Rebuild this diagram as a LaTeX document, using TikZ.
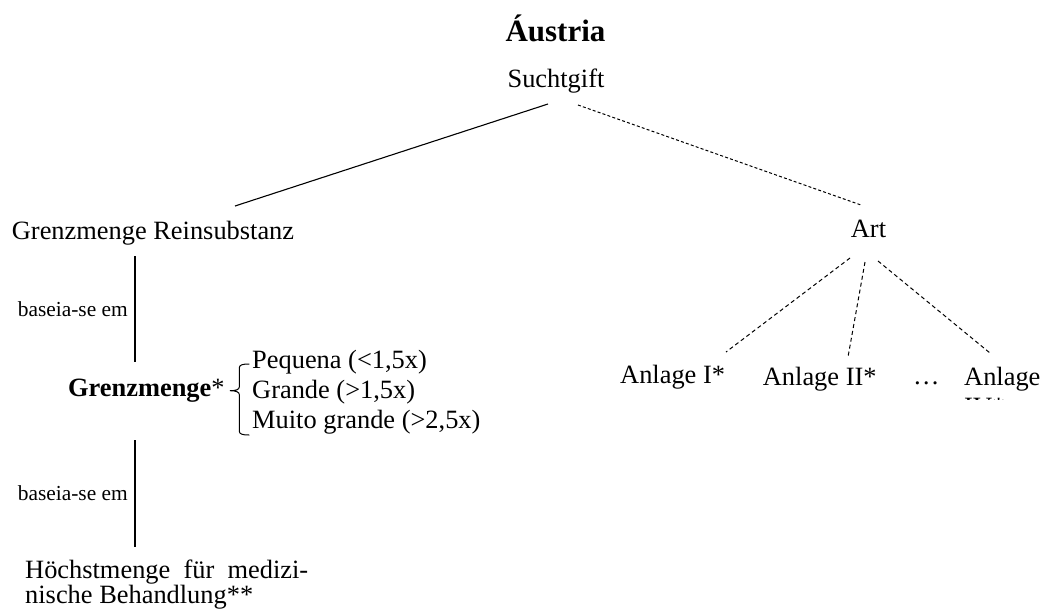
\documentclass[tikz,border=0pt]{standalone}
\usepackage{fontspec}
\setmainfont{Liberation Serif}
\begin{document}
\begin{tikzpicture}[x=1pt,y=-1pt,
  txt/.style={inner sep=0pt, font=\fontsize{26.4}{30}\selectfont},
  small/.style={inner sep=0pt, font=\fontsize{21.4}{24}\selectfont},
  ttl/.style={inner sep=0pt, font=\fontsize{31}{34}\selectfont\bfseries},
  solidline/.style={line width=1.1pt},
  dashline/.style={line width=1pt, dash pattern=on 4pt off 3pt},
  finedash/.style={line width=1pt, dash pattern=on 3pt off 2.2pt}]
\useasboundingbox (0,0) rectangle (1044,614);
% nodes
\node[ttl, anchor=base] (title) at (555.5,41.7) {Áustria};
\node[txt, anchor=base] (such) at (556,87) {Suchtgift};
\node[txt, anchor=base west] (grs) at (11.7,239) {Grenzmenge Reinsubstanz};
\node[txt, anchor=base] (art) at (868.5,237) {Art};
\node[txt, anchor=base west] (a1) at (620,383) {Anlage I*};
\node[txt, anchor=base west] (a2) at (762.7,385) {Anlage II*};
\node[txt, anchor=base west] (dots) at (913,384) {…};
\node[txt, anchor=base west] (a4) at (964,385) {Anlage};
\begin{scope}
  \clip (960,396) rectangle (1044,399.6);
  \node[txt, anchor=base west] (a4b) at (964,415.5) {IV*};
\end{scope}
\node[txt, anchor=base west] (gm) at (68,396) {\textbf{Grenzmenge}*};
\node[txt, anchor=base west] (items) at (252,368)
  {\begin{tabular}[t]{@{}l@{}}Pequena (<1,5x)\\Grande (>1,5x)\\Muito grande (>2,5x)\end{tabular}};
\node[inner sep=0pt, font=\fontsize{26.4}{25}\selectfont, anchor=base west] (hm) at (25,578)
  {\begin{tabular}[t]{@{}l@{}}\makebox[283pt][s]{Höchstmenge für medizi-}\\nische Behandlung**\end{tabular}};
% connectors
\draw[solidline] ([shift={(-8,17)}]such.base) -- ([shift={(223.3,-33)}]grs.base west);
\draw[finedash] ([shift={(22,18)}]such.base) -- ([shift={(-7.5,-32)}]art.base);
\draw[dashline] ([shift={(-18.5,21)}]art.base) -- ([shift={(106,-31)}]a1.base west);
\draw[dashline] ([shift={(-3.5,25)}]art.base) -- ([shift={(85.3,-28)}]a2.base west);
\draw[dashline] ([shift={(9.5,24)}]art.base) -- ([shift={(26,-32)}]a4.base west);
\draw[solidline] ([shift={(123.3,17)}]grs.base west) --
  node[small, left=6.7pt] (lab1) {baseia-se em} ([shift={(67,-34)}]gm.base west);
\draw[solidline] ([shift={(67,44)}]gm.base west) --
  node[small, left=6.7pt] (lab2) {baseia-se em} ([shift={(110,-31)}]hm.base west);
% brace
\draw[line width=1pt] (249.3,364) .. controls (242,364) and (239.3,365) .. (239.3,368)
  -- (239.3,387) .. controls (239.3,389.5) and (236,390.7) .. (230,390.7)
  .. controls (236,390.7) and (239.3,392) .. (239.3,394.5)
  -- (239.3,431) .. controls (239.3,434) and (242,435) .. (249.3,435);
\end{tikzpicture}
\end{document}
